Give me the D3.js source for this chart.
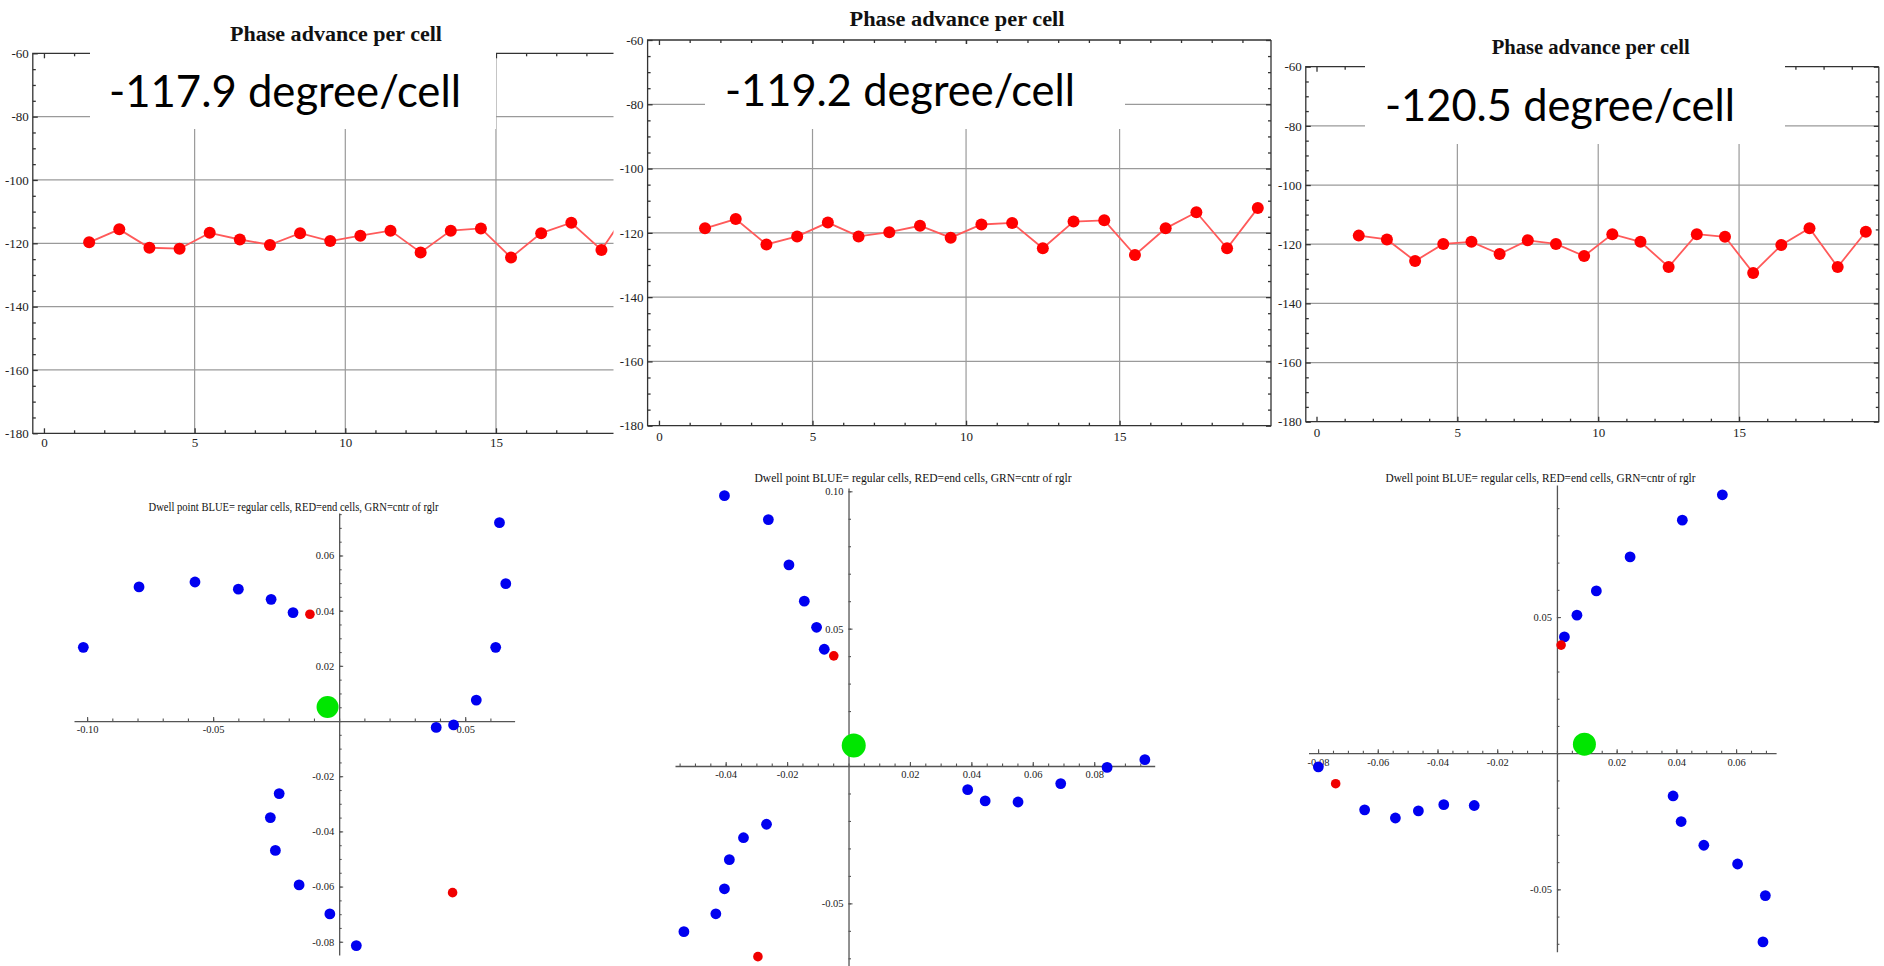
<!DOCTYPE html>
<html>
<head>
<meta charset="utf-8">
<script src="https://cdn.jsdelivr.net/npm/d3@7"></script>
<style>
body{margin:0;background:#fff;}
svg{display:block;}
.tick text{font-family:"Liberation Serif","Times New Roman",serif;fill:#222;}
</style>
</head>
<body>
<svg id="chart" width="1884" height="966"></svg>
<script>
// phase advance per cell, three runs
const cells = [1.5, 2.5, 3.5, 4.5, 5.5, 6.5, 7.5, 8.5, 9.5, 10.5, 11.5, 12.5, 13.5, 14.5, 15.5, 16.5, 17.5, 18.5, 19.5];
const phaseA = [-119.7, -115.6, -121.4, -121.7, -116.7, -118.8, -120.5, -116.8, -119.3, -117.6, -116.0, -122.9, -116.0, -115.3, -124.5, -116.8, -113.5, -122.1, -108.0];
const phaseB = [-118.6, -115.7, -123.6, -121.1, -116.8, -121.1, -119.8, -117.8, -121.5, -117.4, -116.9, -124.8, -116.5, -116.1, -126.9, -118.6, -113.6, -124.8, -112.3];
const phaseC = [-117.1, -118.4, -125.7, -119.9, -119.2, -123.3, -118.7, -119.9, -124.0, -116.6, -119.2, -127.7, -116.6, -117.5, -129.7, -120.3, -114.6, -127.7, -115.8];
const phaseLabels = ["-117.9 degree/cell", "-119.2 degree/cell", "-120.5 degree/cell"];
const phaseTitle = "Phase advance per cell";
const phaseYTicks = [-60, -80, -100, -120, -140, -160, -180];
const phaseYGrid = [-80, -100, -120, -140, -160];
const phaseXTicks = [0, 5, 10, 15];

// dwell points [x, y]
const dwellTitle = "Dwell point BLUE= regular cells, RED=end cells, GRN=cntr of rglr";
const blueA = [[-0.1015,0.0267],[-0.0794,0.0486],[-0.0572,0.0504],[-0.0400,0.0478],[-0.0270,0.0441],[-0.0183,0.0393],
  [0.0636,0.0719],[0.0661,0.0498],[0.0621,0.0267],[0.0544,0.0076],[0.0454,-0.0014],[0.0385,-0.0023],
  [-0.0238,-0.0263],[-0.0273,-0.0350],[-0.0253,-0.0469],[-0.0159,-0.0594],[-0.0037,-0.0699],[0.0068,-0.0814]];
const redA = [[-0.0116,0.0387],[0.0450,-0.0622]];
const greenA = [[-0.0046,0.0051]];
const blueB = [[-0.0404,0.0984],[-0.0261,0.0897],[-0.0194,0.0732],[-0.0144,0.0600],[-0.0104,0.0505],[-0.0079,0.0425],
  [0.0388,-0.0086],[0.0445,-0.0127],[0.0552,-0.0131],[0.0691,-0.0064],[0.0842,-0.0005],[0.0965,0.0023],
  [-0.0267,-0.0212],[-0.0342,-0.0261],[-0.0388,-0.0341],[-0.0404,-0.0447],[-0.0432,-0.0538],[-0.0536,-0.0603]];
const redB = [[-0.0048,0.0401],[-0.0295,-0.0694]];
const greenB = [[0.0017,0.0075]];
const blueC = [[0.0554,0.0949],[0.0420,0.0856],[0.0245,0.0721],[0.0132,0.0596],[0.0067,0.0507],[0.0025,0.0427],
  [-0.0799,-0.0050],[-0.0644,-0.0208],[-0.0541,-0.0238],[-0.0464,-0.0212],[-0.0379,-0.0189],[-0.0277,-0.0192],
  [0.0389,-0.0157],[0.0416,-0.0251],[0.0492,-0.0338],[0.0605,-0.0407],[0.0698,-0.0523],[0.0690,-0.0693]];
const redC = [[0.0014,0.0397],[-0.0741,-0.0112]];
const greenC = [[0.0092,0.0033]];
const dwellXTicksA = [-0.10, -0.05, 0.05];
const dwellYTicksA = [0.06, 0.04, 0.02, -0.02, -0.04, -0.06, -0.08];
const dwellXTicksB = [-0.04, -0.02, 0.02, 0.04, 0.06, 0.08];
const dwellYTicksB = [0.10, 0.05, -0.05];
const dwellXTicksC = [-0.08, -0.06, -0.04, -0.02, 0.02, 0.04, 0.06];
const dwellYTicksC = [0.05, -0.05];

const svg = d3.select("#chart");

function fmt2(d){ return (d < 0 ? "-" : "") + Math.abs(d).toFixed(2); }

function drawPhase(cfg, values, label, idx)
{
    const g = svg.append("g");
    const x = d3.scaleLinear().domain(cfg.xDomain).range([cfg.left, cfg.right]);
    const y = d3.scaleLinear().domain([-180, -60]).range([cfg.bottom, cfg.top]);

    g.append("clipPath").attr("id", "clip" + idx)
        .append("rect")
        .attr("x", cfg.left).attr("y", cfg.top)
        .attr("width", cfg.right - cfg.left).attr("height", cfg.bottom - cfg.top);

    // grid
    g.selectAll(".hgrid").data(phaseYGrid).enter().append("line")
        .attr("x1", cfg.left).attr("x2", cfg.right)
        .attr("y1", d => y(d)).attr("y2", d => y(d))
        .attr("stroke", "#9a9a9a").attr("stroke-width", 1.2);
    g.selectAll(".vgrid").data([5, 10, 15]).enter().append("line")
        .attr("x1", d => x(d)).attr("x2", d => x(d))
        .attr("y1", cfg.top).attr("y2", cfg.bottom)
        .attr("stroke", "#9a9a9a").attr("stroke-width", 1.2);

    const pts = cells.map((c, i) => ({c, v: values[i]}));
    const plot = g.append("g").attr("clip-path", `url(#clip${idx})`);
    plot.append("path")
        .datum(pts)
        .attr("fill", "none")
        .attr("stroke", "#ff5a5a")
        .attr("stroke-width", 1.8)
        .attr("d", d3.line().x(d => x(d.c)).y(d => y(d.v)));
    plot.selectAll("circle").data(pts).enter().append("circle")
        .attr("cx", d => x(d.c)).attr("cy", d => y(d.v))
        .attr("r", 6).attr("fill", "#ff0000");

    // frame
    let framePath = `M${cfg.right},${cfg.top}H${cfg.left}V${cfg.bottom}H${cfg.right}`;
    if (cfg.rightFrame) framePath += `V${cfg.top}`;
    g.append("path").attr("d", framePath).attr("fill", "none")
        .attr("stroke", "#333").attr("stroke-width", 1.3);

    const xMinor = d3.range(0, Math.floor(cfg.xDomain[1]) + 1).filter(d => d % 5 != 0);
    const yMinor = d3.range(-175, -60, 5).filter(d => d % 20 != 0);

    const axes = [
        [d3.axisBottom(x).tickValues(phaseXTicks).tickSizeInner(-5).tickPadding(cfg.xPad).tickFormat(d => String(d)), cfg.bottom, true],
        [d3.axisBottom(x).tickValues(xMinor).tickSizeInner(-3).tickFormat(() => ""), cfg.bottom, true],
        [d3.axisTop(x).tickValues(phaseXTicks).tickSizeInner(-5).tickFormat(() => ""), cfg.top, true],
        [d3.axisTop(x).tickValues(xMinor).tickSizeInner(-3).tickFormat(() => ""), cfg.top, true],
        [d3.axisLeft(y).tickValues(phaseYTicks).tickSizeInner(-5).tickPadding(4).tickFormat(d => String(d)), cfg.left, false],
        [d3.axisLeft(y).tickValues(yMinor).tickSizeInner(-3).tickFormat(() => ""), cfg.left, false]
    ];
    if (cfg.rightFrame) {
        axes.push([d3.axisRight(y).tickValues(phaseYTicks).tickSizeInner(-5).tickFormat(() => ""), cfg.right, false]);
        axes.push([d3.axisRight(y).tickValues(yMinor).tickSizeInner(-3).tickFormat(() => ""), cfg.right, false]);
    }
    for (const [ax, pos, horiz] of axes) {
        g.append("g")
            .attr("transform", horiz ? `translate(0,${pos})` : `translate(${pos},0)`)
            .call(ax.tickSizeOuter(0))
            .call(a => a.select(".domain").remove())
            .call(a => a.selectAll(".tick line").attr("stroke", "#333").attr("stroke-width", 1.3))
            .call(a => a.selectAll(".tick text").attr("font-size", 13));
    }

    // white label box over the plot
    g.append("rect")
        .attr("x", cfg.box[0]).attr("y", cfg.box[2])
        .attr("width", cfg.box[1] - cfg.box[0]).attr("height", cfg.box[3] - cfg.box[2])
        .attr("fill", "#fff");

    g.append("text")
        .attr("x", cfg.title[0]).attr("y", cfg.title[1])
        .attr("text-anchor", "middle")
        .attr("textLength", cfg.title[2]).attr("lengthAdjust", "spacingAndGlyphs")
        .attr("font-family", "'Liberation Serif', 'Times New Roman', serif")
        .attr("font-weight", "bold").attr("font-size", 20).attr("fill", "#111")
        .text(phaseTitle);

    g.append("text")
        .attr("x", cfg.label[0]).attr("y", cfg.label[1])
        .attr("textLength", cfg.label[2]).attr("lengthAdjust", "spacingAndGlyphs")
        .attr("font-family", "Lato, 'Open Sans', sans-serif")
        .attr("font-size", 45).attr("fill", "#000")
        .text(label);
}

function drawDwell(cfg, blue, red, green, xTicks, yTicks)
{
    const g = svg.append("g");
    const x = d3.scaleLinear().domain(cfg.xDomain).range(cfg.xRange);
    const y = d3.scaleLinear().domain(cfg.yDomain).range(cfg.yRange);
    const x0 = x(0), y0 = y(0);

    const style = a => a
        .call(s => s.select(".domain").attr("stroke", "#555").attr("stroke-width", 1.3))
        .call(s => s.selectAll(".tick line").attr("stroke", "#555").attr("stroke-width", 1.1))
        .call(s => s.selectAll(".tick text").attr("font-size", 10.5));

    g.append("g").attr("transform", `translate(0,${y0})`)
        .call(d3.axisBottom(x).tickValues(cfg.xMinor).tickSizeInner(-2.5).tickSizeOuter(0).tickFormat(() => ""))
        .call(style);
    g.append("g").attr("transform", `translate(0,${y0})`)
        .call(d3.axisBottom(x).tickValues(xTicks).tickSizeInner(-4).tickSizeOuter(0).tickPadding(5).tickFormat(fmt2))
        .call(a => a.select(".domain").remove())
        .call(style);
    g.append("g").attr("transform", `translate(${x0},0)`)
        .call(d3.axisLeft(y).tickValues(cfg.yMinor).tickSizeInner(-2.5).tickSizeOuter(0).tickFormat(() => ""))
        .call(style);
    g.append("g").attr("transform", `translate(${x0},0)`)
        .call(d3.axisLeft(y).tickValues(yTicks).tickSizeInner(-4).tickSizeOuter(0).tickPadding(5).tickFormat(fmt2))
        .call(a => a.select(".domain").remove())
        .call(style);

    g.selectAll(".grn").data(green).enter().append("circle")
        .attr("cx", d => x(d[0])).attr("cy", d => y(d[1])).attr("r", cfg.gr).attr("fill", "#00e600");
    g.selectAll(".blu").data(blue).enter().append("circle")
        .attr("cx", d => x(d[0])).attr("cy", d => y(d[1])).attr("r", 5.4).attr("fill", "#0000f0");
    g.selectAll(".rd").data(red).enter().append("circle")
        .attr("cx", d => x(d[0])).attr("cy", d => y(d[1])).attr("r", 4.8).attr("fill", "#f00000");

    g.append("text")
        .attr("x", cfg.title[0]).attr("y", cfg.title[1])
        .attr("text-anchor", "middle")
        .attr("textLength", cfg.title[2]).attr("lengthAdjust", "spacingAndGlyphs")
        .attr("font-family", "'Liberation Serif', 'Times New Roman', serif")
        .attr("font-size", 13).attr("fill", "#111")
        .text(dwellTitle);
}

drawPhase({left: 32.8, right: 613.5, top: 53.3, bottom: 433.3, xDomain: [-0.37, 18.9], rightFrame: false, xPad: 4,
    box: [90, 496, 47, 129], title: [336, 41, 212], label: [109, 107, 352]}, phaseA, phaseLabels[0], 0);
drawPhase({left: 647.6, right: 1271, top: 40, bottom: 425.7, xDomain: [-0.37, 19.93], rightFrame: true, xPad: 6,
    box: [705, 1125, 44, 129], title: [957, 26, 215], label: [725, 106, 350]}, phaseB, phaseLabels[1], 1);
drawPhase({left: 1305.8, right: 1878.8, top: 66.7, bottom: 421.7, xDomain: [-0.38, 19.96], rightFrame: true, xPad: 6,
    box: [1365, 1785, 59, 144], title: [1590.7, 54, 198], label: [1385, 120.7, 350]}, phaseC, phaseLabels[2], 2);

drawDwell({xDomain: [-0.1052, 0.0696], xRange: [74, 514.6], yDomain: [-0.0848, 0.0754], yRange: [955, 513],
    xMinor: d3.range(-10, 7).map(i => i / 100), yMinor: d3.range(-16, 16).map(i => i / 200), gr: 11,
    title: [293.5, 511, 290]}, blueA, redA, greenA, dwellXTicksA, dwellYTicksA);
drawDwell({xDomain: [-0.0565, 0.0997], xRange: [675, 1154.7], yDomain: [-0.0728, 0.1012], yRange: [966, 488],
    xMinor: d3.range(-11, 20).map(i => i / 200), yMinor: d3.range(-7, 11).map(i => i / 100), gr: 12,
    title: [913, 482, 317]}, blueB, redB, greenB, dwellXTicksB, dwellYTicksB);
drawDwell({xDomain: [-0.0832, 0.0734], xRange: [1308.5, 1776.1], yDomain: [-0.0729, 0.0985], yRange: [951.7, 485],
    xMinor: d3.range(-16, 15).map(i => i / 200), yMinor: d3.range(-7, 10).map(i => i / 100), gr: 11.5,
    title: [1540.5, 482, 310]}, blueC, redC, greenC, dwellXTicksC, dwellYTicksC);
</script>
</body>
</html>
